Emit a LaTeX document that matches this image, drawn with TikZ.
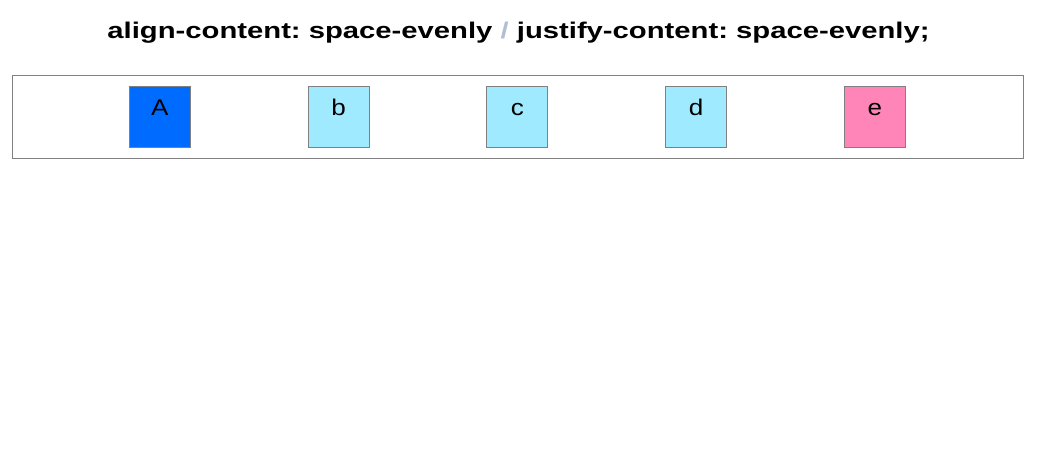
\documentclass[tikz,border=0pt]{standalone}
\usepackage{fontspec}
\setmainfont{Liberation Sans}
\newfontfamily\headfont{Liberation Sans}[FakeStretch=1.29]
\newfontfamily\itemfont{Liberation Sans}[FakeStretch=1.15]
\usetikzlibrary {positioning}

\definecolor{boxblue}{RGB}{0,108,255}
\definecolor{boxcyan}{RGB}{160,234,255}
\definecolor{boxpink}{RGB}{255,133,184}
\definecolor{slashgray}{RGB}{176,190,214}
\definecolor{edgegray}{RGB}{128,128,128}
\frenchspacing

\begin{document}
\begin{tikzpicture}[
    x=0.75pt,
    y=-0.75pt,
    node distance=134.05pt,
    on grid,
    item/.style={draw=edgegray, line width=0.75pt, inner sep=0pt,
        minimum size=45.75pt, text height=22.25pt, text depth=23.5pt,
        font=\itemfont\fontsize{17pt}{20pt}\selectfont},
]
    \useasboundingbox (0,0) rectangle (1037,467);

    \node[anchor=base, font=\headfont\bfseries\fontsize{17pt}{20pt}\selectfont] (title) at (518.5,38.3)
        {align-content: space-evenly {\color{slashgray}/} justify-content: space-evenly;};

    \draw[edgegray, line width=0.75pt] (12.3,75.3) rectangle (1023.3,158) coordinate (frame);

    \node[item, fill=boxblue]              (A) at (159.8,116.8) {A};
    \node[item, fill=boxcyan, right =of A] (b) {b};
    \node[item, fill=boxcyan, right =of b] (c) {c};
    \node[item, fill=boxcyan, right =of c] (d) {d};
    \node[item, fill=boxpink, right =of d] (e) {e};
\end{tikzpicture}
\end{document}
